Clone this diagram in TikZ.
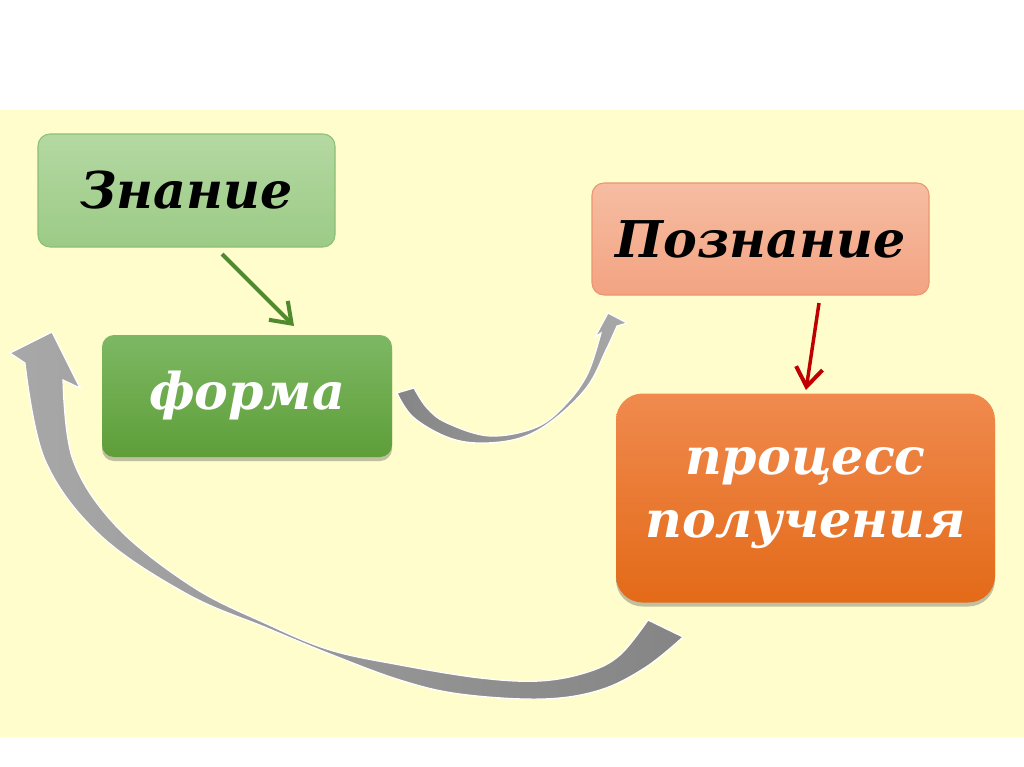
\documentclass[tikz,border=0pt]{standalone}
\usepackage{fontspec}
\setmainfont{DejaVu Serif}
\usetikzlibrary{arrows.meta,shadows}
\definecolor{bgyellow}{HTML}{FFFDCC}
\definecolor{gtop}{HTML}{B4D8A2}
\definecolor{gbot}{HTML}{9CCB86}
\definecolor{gline}{HTML}{8CBF76}
\definecolor{ftop}{HTML}{7DB864}
\definecolor{fbot}{HTML}{5E9E38}
\definecolor{ptop}{HTML}{F6BDA2}
\definecolor{pbot}{HTML}{F3A382}
\definecolor{pline}{HTML}{EC9572}
\definecolor{otop}{HTML}{F08A4E}
\definecolor{obot}{HTML}{E36A18}
\definecolor{garrow}{HTML}{4F8A2F}
\definecolor{rarrow}{HTML}{C00000}
\definecolor{graylight}{HTML}{A8A8A8}
\definecolor{graydark}{HTML}{858585}
\tikzset{
  boxtext/.style={font=\fontsize{38}{47}\selectfont\bfseries\itshape, align=center, inner sep=0pt},
  boxbase/.style={boxtext, rounded corners=9pt},
  lightshadow/.style={drop shadow={shadow xshift=0pt, shadow yshift=-3pt, opacity=0.35, fill=black!70}},
  conn/.style={line width=3pt, -{Straight Barb[length=14pt, width=20pt, line width=3pt]}},
  bigarrow/.style={left color=graylight, right color=graydark, draw=white, line width=0.9pt},
}
\begin{document}
\begin{tikzpicture}[x=0.75pt, y=-0.75pt]
\useasboundingbox (0,0) rectangle (1024,767);
\fill[white] (0,0) rectangle (1024,767);
\fill[bgyellow] (0,110) rectangle (1024,737);

% boxes
\node[boxbase, top color=gtop, bottom color=gbot, draw=gline, line width=0.8pt,
      minimum width=297*0.75pt, minimum height=113*0.75pt, text=black] (zn) at (186.5,190.5) {Знание};
\node[boxbase, top color=ftop, bottom color=fbot, lightshadow,
      minimum width=290*0.75pt, minimum height=122*0.75pt, text=white] (fo) at (247,396) {форма};
\node[boxbase, top color=ptop, bottom color=pbot, draw=pline, line width=0.8pt,
      minimum width=337*0.75pt, minimum height=112*0.75pt, text=black] (po) at (760.5,239) {Познание};
\node[boxbase, rounded corners=20pt, top color=otop, bottom color=obot, lightshadow,
      minimum width=379*0.75pt, minimum height=209*0.75pt, text=white] (pr) at (805.5,498) {процесс\\получения};

% straight connectors
\coordinate (g1) at (222,254);
\coordinate (g2) at (294,326);
\draw[conn, draw=garrow] (g1) -- (g2);
\coordinate (r1) at (819,303);
\coordinate (r2) at (806,390);
\draw[conn, draw=rarrow, line width=2.6pt] (r1) -- (r2);

% small curved arrow (форма -> Познание)
\path[bigarrow, left color=graydark, right color=graylight]
  plot[smooth, tension=0.6] coordinates {(397,393) (413,417) (447,437) (480,443) (520,438) (553,420) (587,387) (606,350) (617,326)}
  -- (627,323) -- (608,313) -- (595,337) -- (601,333)
  -- plot[smooth, tension=0.6] coordinates {(601,333) (588,373) (567,403) (537,427) (490,436) (447,423) (427,408) (414,388)}
  -- cycle;

% big curved arrow (процесс получения -> back up left)
\path[bigarrow]
  plot[smooth, tension=0.6] coordinates {(25,363) (45,460) (100,535) (187,594) (267,628) (330,654) (400,680) (460,694) (542,699) (600,690) (646,667) (683,637)}
  -- (648,620)
  -- plot[smooth, tension=0.6] coordinates {(648,620) (620,655) (588,672) (540,681) (480,678) (400,665) (330,650) (267,624) (193,587) (117,527) (73,460) (63,380)}
  -- (80,388) -- (52,332) -- (10,353) -- cycle;
\end{tikzpicture}
\end{document}
